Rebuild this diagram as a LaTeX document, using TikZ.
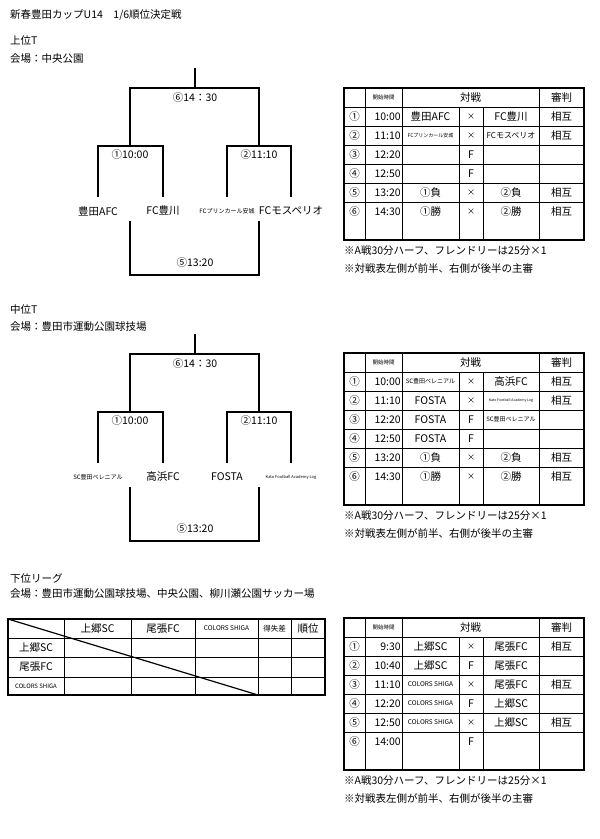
\documentclass[tikz,border=0pt]{standalone}
\usepackage{fontspec}
\setmainfont{Noto Sans CJK JP}
\tikzset{thin line/.style={line width=0.7pt}}
\tikzset{thick line/.style={line width=1.6pt}}
\tikzset{bracket/.style={line width=1.3pt}}
\tikzset{cell/.style={font=\fontsize{10.5}{10.5}\selectfont,inner sep=0pt}}
\tikzset{tinycell/.style={font=\fontsize{5.5}{5.5}\selectfont,inner sep=0pt}}
\tikzset{label/.style={font=\fontsize{10.5}{10.5}\selectfont,inner sep=0pt,anchor=west}}
% schedule table: #1 top, #2 name prefix, #3 rows
\newcommand{\schedtable}[3]{%
  \foreach \r in {1,...,6} \draw[thin line] (344,#1+19*\r) -- (584,#1+19*\r);
  \foreach \c in {365,402,539} \draw[thin line] (\c,#1) -- (\c,#1+152);
  \foreach \c in {459,483} \draw[thin line] (\c,#1+19) -- (\c,#1+152);
  \draw[thick line] (344,#1) rectangle (584,#1+152);
  \node[tinycell] (#2h1) at (383.5,#1+9.5) {開始時間};
  \node[cell] (#2h2) at (470.5,#1+9.5) {対戦};
  \node[cell] (#2h3) at (561.5,#1+9.5) {審判};
  \foreach \n/\t/\a/\m/\b/\j [count=\i] in {#3} {
    \node[cell] (#2n\i) at (354.5,#1+9.5+19*\i) {\n};
    \node[cell,anchor=east] (#2t\i) at (401,#1+9.5+19*\i) {\t};
    \node[cell] (#2a\i) at (430.5,#1+9.5+19*\i) {\a};
    \node[cell] (#2m\i) at (471,#1+9.5+19*\i) {\m};
    \node[cell] (#2b\i) at (511,#1+9.5+19*\i) {\b};
    \node[cell] (#2j\i) at (561.5,#1+9.5+19*\i) {\j};
  }
  \node[label] (#2note1) at (344,#1+163) {※A戦30分ハーフ、フレンドリーは25分×1};
  \node[label] (#2note2) at (344,#1+180) {※対戦表左側が前半、右側が後半の主審};
}
\newcommand{\cross}{{\fontsize{8}{8}\selectfont ×}}
\newcommand{\smallname}[1]{{\fontsize{6}{6}\selectfont #1}}
% tournament bracket: #1 offset, #2 prefix, #3-#6 teams
\newcommand{\knockout}[6]{%
  \draw[bracket] (195,#1+68) -- (195,#1+88);
  \draw[bracket] (130,#1+146) -- (130,#1+88) -- (259,#1+88) -- (259,#1+146);
  \draw[bracket] (98,#1+197) -- (98,#1+146) -- (163,#1+146) -- (163,#1+197);
  \draw[bracket] (227,#1+197) -- (227,#1+146) -- (291,#1+146) -- (291,#1+197);
  \draw[bracket] (130,#1+221) -- (130,#1+275) -- (259,#1+275) -- (259,#1+221);
  \node[cell] (#2final) at (195,#1+98) {⑥14：30};
  \node[cell] (#2semiA) at (130,#1+155) {①10:00};
  \node[cell] (#2semiB) at (259,#1+155) {②11:10};
  \node[cell] (#2third) at (195,#1+263) {⑤13:20};
  \node[cell] (#2teamA) at (98,#1+211) {#3};
  \node[cell] (#2teamB) at (163,#1+211) {#4};
  \node[cell] (#2teamC) at (227,#1+211) {#5};
  \node[cell] (#2teamD) at (291,#1+211) {#6};
}
\begin{document}
\begin{tikzpicture}[x=1pt,y=-1pt]
  \useasboundingbox (0,0) rectangle (600,839);
  \node[label] (title) at (10,15) {新春豊田カップU14\quad 1/6順位決定戦};
  %% upper
  \node[label] (upper) at (10,41) {上位T};
  \node[label] (upperplace) at (10,59) {会場：中央公園};
  \knockout{0}{U}{豊田AFC}{FC豊川}{\smallname{FCプリンカール安城}}{FCモスペリオ}
  \schedtable{88}{UT}{①/10:00/豊田AFC/\cross/FC豊川/相互,
    ②/11:10/{\fontsize{5}{5}\selectfont FCプリンカール安城}/\cross/{\fontsize{8}{8}\selectfont FCモスペリオ}/相互,
    ③/12:20//F//, ④/12:50//F//, ⑤/13:20/①負/\cross/②負/相互, ⑥/14:30/①勝/\cross/②勝/相互, ///// }
  %% middle
  \node[label] (middle) at (10,309) {中位T};
  \node[label] (middleplace) at (10,327) {会場：豊田市運動公園球技場};
  \knockout{266}{M}{\smallname{SC豊田ベレニアル}}{高浜FC}{FOSTA}{\fontsize{4}{4}\selectfont Kato Football Academy Log}
  \schedtable{353}{MT}{①/10:00/\smallname{SC豊田ベレニアル}/\cross/高浜FC/相互,
    ②/11:10/FOSTA/\cross/{\fontsize{3.5}{4}\selectfont Kato Football Academy Log}/相互,
    ③/12:20/FOSTA/F/\smallname{SC豊田ベレニアル}/, ④/12:50/FOSTA/F//,
    ⑤/13:20/①負/\cross/②負/相互, ⑥/14:30/①勝/\cross/②勝/相互, ///// }
  %% lower
  \node[label] (lower) at (10,578) {下位リーグ};
  \node[label] (lowerplace) at (10,594) {会場：豊田市運動公園球技場、中央公園、柳川瀬公園サッカー場};
  \draw[thin line] (8,638) -- (325,638) (8,657) -- (325,657) (8,677) -- (325,677);
  \foreach \c in {64,131,195,258,291} \draw[thin line] (\c,619) -- (\c,695);
  \draw[thick line] (8,619) rectangle (325,695);
  \draw[line width=1.2pt] (8,619) -- (258,695);
  \foreach \x/\name [count=\i] in {97.5/上郷SC,163/尾張FC,226.5/{\fontsize{6.5}{6.5}\selectfont COLORS SHIGA},274.5/{\fontsize{7.5}{7.5}\selectfont 得失差},308/順位}
    \node[cell] (col\i) at (\x,628.5) {\name};
  \foreach \y/\name [count=\i] in {647.5/上郷SC,667/尾張FC,686/{\fontsize{6}{6}\selectfont COLORS SHIGA}}
    \node[cell] (row\i) at (36,\y) {\name};
  \schedtable{618}{LT}{①/9:30/上郷SC/\cross/尾張FC/相互, ②/10:40/上郷SC/F/尾張FC/,
    ③/11:10/{\fontsize{6.5}{6.5}\selectfont COLORS SHIGA}/\cross/尾張FC/相互,
    ④/12:20/{\fontsize{6.5}{6.5}\selectfont COLORS SHIGA}/F/上郷SC/,
    ⑤/12:50/{\fontsize{6.5}{6.5}\selectfont COLORS SHIGA}/\cross/上郷SC/相互, ⑥/14:00//F//, ///// }
\end{tikzpicture}
\end{document}
